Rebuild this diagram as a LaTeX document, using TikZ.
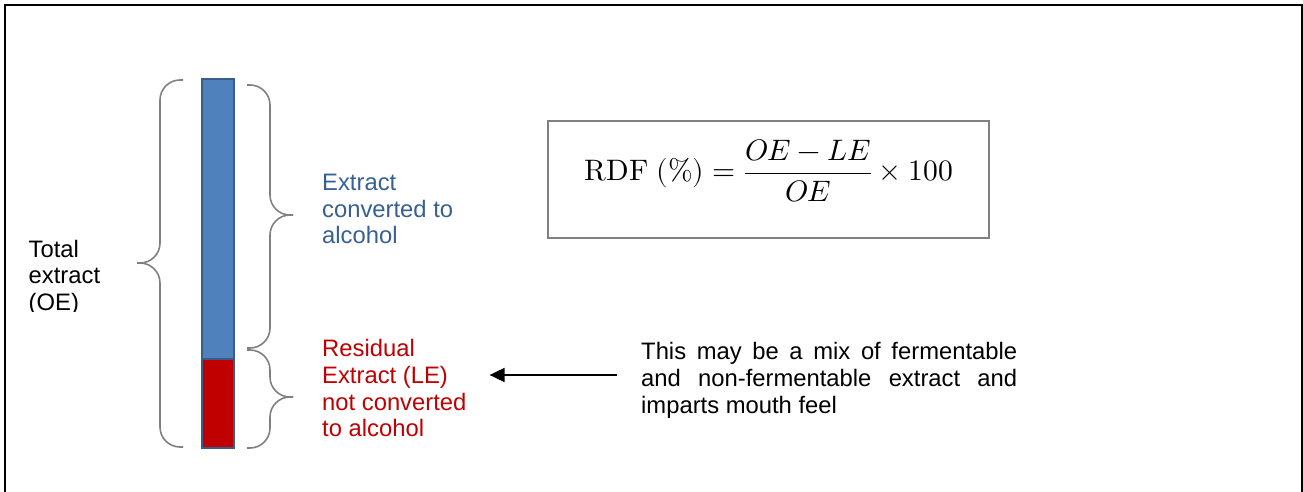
\documentclass[tikz,border=0pt]{standalone}
\usepackage{fontspec}
\usepackage{unicode-math}
\setmainfont{Liberation Sans}
\setmathfont{Latin Modern Math}
\usetikzlibrary{arrows.meta, positioning, calc}
\definecolor{barblue}{RGB}{79,129,189}
\definecolor{barred}{RGB}{192,0,0}
\definecolor{baredge}{RGB}{56,93,138}
\definecolor{convblue}{RGB}{55,96,146}
\definecolor{residred}{RGB}{192,0,0}
\definecolor{bracegray}{RGB}{128,128,128}

\begin{document}
\begin{tikzpicture}[x=1pt, y=-1pt,
  barseg/.style={draw=baredge, line width=1.2pt, minimum width=32pt, inner sep=0pt, outer sep=0pt},
  lbl/.style={font=\fontsize{23.8}{26.8}\selectfont, inner sep=0pt, align=left, anchor=north west},
  curly/.style={draw=bracegray, line width=1.6pt, rounded corners=20pt},
  pointer/.style={-{Triangle[length=15pt,width=14pt]}, line width=1.8pt}]
  \useasboundingbox (0,0) rectangle (1303,492);
  \draw[line width=2pt] (5,492) -- (5,5) -- (1302,5) -- (1302,492);

  \node[barseg, fill=barblue, minimum height=280pt, anchor=north west] (convbar) at (202,79) {};
  \node[barseg, fill=barred, minimum height=89pt, below=0pt of convbar] (residbar) {};

  \draw[curly] (183,80) -- (160,80) -- (160,263) -- (137,263);
  \draw[curly] (137,263) -- (160,263) -- (160,447) -- (183,447);
  \draw[curly] (247,85) -- (270,85) -- (270,215) -- (293,215);
  \draw[curly] (293,215) -- (270,215) -- (270,348) -- (247,348);
  \draw[curly] (247,350) -- (270,350) -- (270,397) -- (293,397);
  \draw[curly] (293,397) -- (270,397) -- (270,448) -- (247,448);

  \begin{scope}
    \clip (0,0) rectangle (150,311);
    \node[lbl] (total) at (28.5,239.7) {Total\\extract\\(OE)};
  \end{scope}
  \node[lbl, text=convblue] (conv) at (322,173.7) {Extract\\converted to\\alcohol};
  \node[lbl, text=residred] (resid) at (322,339) {Residual\\Extract (LE)\\not converted\\to alcohol};
  \node[lbl, text width=376pt, align=justify] (note) at (641,342)
    {This may be a mix of fermentable\linebreak and non-fermentable extract and\linebreak imparts mouth feel};

  \coordinate (arrowrow) at (0,375);
  \draw[pointer] ([xshift=-24pt]note.west |- arrowrow) -- ([xshift=23pt]resid.east |- arrowrow);

  \node[draw=bracegray, line width=1.5pt, minimum width=441pt, minimum height=117pt, inner sep=0pt] (formbox) at (768.5,179.5) {};
  \node[font=\fontsize{29.6}{36}\selectfont] (rdf) at ($(formbox.center)+(0,-8.5)$)
    {$\symup{RDF}\ (\%) = \dfrac{OE - LE}{OE} \times 100$};
\end{tikzpicture}
\end{document}
